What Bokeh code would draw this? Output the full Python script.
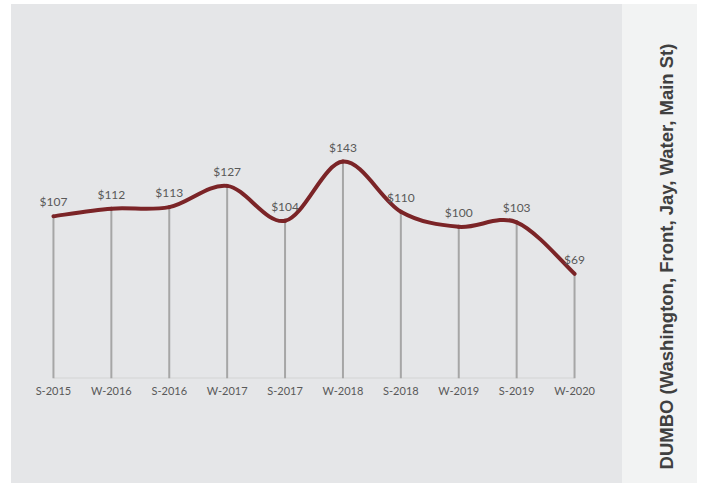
import numpy as np
from bokeh.plotting import figure
from bokeh.models import Range1d, FixedTicker, Spacer, ColumnDataSource
from bokeh.layouts import row, column
from bokeh.core.properties import value
from bokeh.embed import file_html
from bokeh.resources import INLINE

categories = ["S-2015", "W-2016", "S-2016", "W-2017", "S-2017",
              "W-2018", "S-2018", "W-2019", "S-2019", "W-2020"]
rents = [107, 112, 113, 127, 104, 143, 110, 100, 103, 69]
labels = ["$" + str(v) for v in rents]
title_text = "DUMBO (Washington, Front, Jay, Water, Main St)"

PANEL = "#E5E6E8"
SIDE = "#F2F3F3"
LINE = "#7B2427"
DROP = "#A6A6A6"
TXT = "#595959"

xs = np.arange(len(categories), dtype=float)
ys = np.array(rents, dtype=float)

p = figure(frame_width=579, frame_height=273, min_border_left=13, min_border_right=19,
           min_border_top=101, min_border_bottom=105,
           x_range=Range1d(-0.5, len(categories) - 0.5), y_range=Range1d(0, 180),
           y_axis_location=None, output_backend="svg", toolbar_location=None,
           background_fill_color=None, border_fill_color=None, outline_line_color=None)
p.styles = {"background-color": PANEL}
p.frame_align = False
p.grid.visible = False
p.xaxis.ticker = FixedTicker(ticks=list(xs))
p.xaxis.major_label_overrides = {i: c for i, c in enumerate(categories)}
p.xaxis.axis_line_color = None
p.xaxis.major_tick_line_color = None
p.xaxis.minor_tick_line_color = None
p.xaxis.major_tick_out = 0
p.xaxis.major_tick_in = 0
p.xaxis.major_label_text_color = TXT
p.xaxis.major_label_text_font = "Lato"
p.xaxis.major_label_text_font_size = "11px"
p.xaxis.major_label_standoff = 5

# baseline
p.segment(x0=[xs[0]], y0=[0], x1=[xs[-1]], y1=[0], line_color="#D4D4D4", line_width=2)
# drop lines
p.segment(x0=xs, y0=np.zeros_like(ys), x1=xs, y1=ys, line_color=DROP, line_width=2)

# smoothed line via cubic bezier (Catmull-Rom control points)
px = np.concatenate([[xs[0]], xs, [xs[-1]]])
py = np.concatenate([[ys[0]], ys, [ys[-1]]])
n = len(xs)
x0 = xs[:-1]; y0 = ys[:-1]; x1 = xs[1:]; y1 = ys[1:]
cx0 = xs[:-1] + (px[2:n + 1] - px[0:n - 1]) / 6.0
cy0 = ys[:-1] + (py[2:n + 1] - py[0:n - 1]) / 6.0
cx1 = xs[1:] - (px[3:n + 2] - px[1:n]) / 6.0
cy1 = ys[1:] - (py[3:n + 2] - py[1:n]) / 6.0
p.bezier(x0=x0, y0=y0, x1=x1, y1=y1, cx0=cx0, cy0=cy0, cx1=cx1, cy1=cy1,
         line_color=LINE, line_width=4, line_cap="round")

src = ColumnDataSource(dict(x=xs, y=ys, t=labels))
p.text(x="x", y="y", text="t", source=src, text_align="center", text_baseline="bottom",
       y_offset=-7, text_color=TXT, text_font=value("Lato"), text_font_size="12px")

# side title panel
t = figure(frame_width=75, frame_height=479, min_border=0,
           x_range=Range1d(0, 75), y_range=Range1d(0, 479),
           x_axis_location=None, y_axis_location=None,
           output_backend="svg", toolbar_location=None,
           background_fill_color=None, border_fill_color=None, outline_line_color=None)
t.styles = {"background-color": SIDE}
t.frame_align = False
t.grid.visible = False
t.text(x=[44], y=[227], text=[title_text], angle=np.pi / 2, text_align="center",
       text_baseline="middle", text_color="#404040", text_font=value("Liberation Sans"),
       text_font_style="bold", text_font_size="18.5px")

layout = column(Spacer(width=704, height=4),
                row(Spacer(width=11, height=479), p, t))

open("out.html", "w").write(file_html(layout, INLINE))
